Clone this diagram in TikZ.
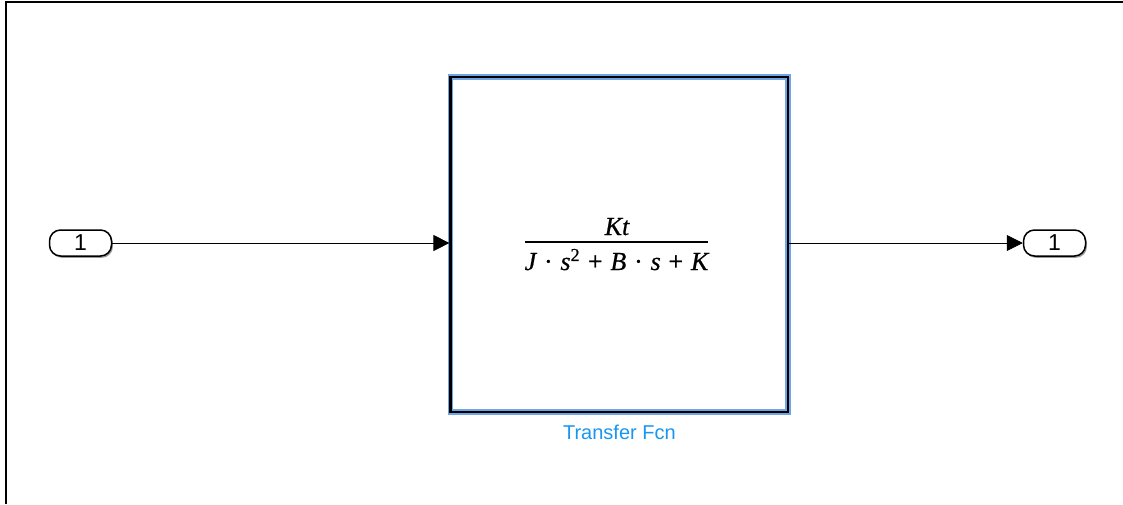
\documentclass[tikz,border=0pt]{standalone}
\usepackage{fontspec}
\setmainfont{Liberation Serif}
\newfontfamily\sansf{Liberation Sans}
\newfontfamily\tffont[FakeBold=0.6]{Liberation Serif}
\usetikzlibrary{arrows.meta,shadows}
\definecolor{simblue}{RGB}{25,150,240}
\definecolor{glow}{RGB}{110,165,230}
\newcommand{\gp}{\hspace{0.3em}}
\begin{document}
\begin{tikzpicture}[x=1pt,y=-1pt,
  port/.style={draw,line width=1.5pt,rounded corners=11pt,minimum width=62pt,minimum height=26pt,inner sep=0pt,
    font=\sansf\fontsize{23}{26}\selectfont, fill=white,
    drop shadow={shadow xshift=1.4pt,shadow yshift=-1.8pt,opacity=0.4,fill=black}},
  sig/.style={line width=0.8pt,-{Triangle[length=16pt,width=16pt]}},
  block/.style={draw=black,line width=2.2pt,minimum width=337.5pt,minimum height=335pt,inner sep=0pt,
    preaction={draw=glow,line width=5.5pt}},
  tf/.style={font=\tffont\fontsize{26}{30}\selectfont,inner sep=0pt,anchor=base},
  lbl/.style={font=\sansf\fontsize{20}{24}\selectfont,text=simblue,inner sep=0pt}
]
\useasboundingbox (0,0) rectangle (1123,504);
\draw[line width=2pt] (1123,2) -- (6,2) -- (6,504);
\node[block] (blk) at (619.25,244.5) {};
\node[port] (in) at (80.5,243) {1};
\node[port] (out) at (1054.5,243) {1};
\draw[sig] (in.east) -- (in.east -| blk.west);
\draw[sig] (out.west -| blk.east) -- (out.west);
\node[tf] (num) at (617,235) {\itshape Kt};
\node[tf] (den) at (616.5,270) {\itshape J\gp\upshape·\gp\itshape s\textsuperscript{\upshape 2}\gp\upshape+\gp\itshape B\gp\upshape·\gp\itshape s\gp\upshape+\gp\itshape K};
\coordinate (barl) at (525,242.3);
\coordinate (barr) at (708.3,242.3);
\draw[line width=1.7pt] (barl) -- (barr);
\node[lbl] (name) at (619.4,432) {Transfer Fcn};
\end{tikzpicture}
\end{document}
